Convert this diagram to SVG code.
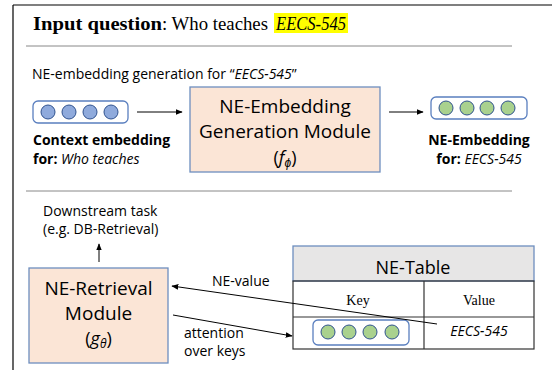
<svg xmlns="http://www.w3.org/2000/svg" width="552" height="370" viewBox="0 0 552 370">
<defs>
<marker id="ah" viewBox="0 0 10 10" refX="9" refY="5" markerWidth="7" markerHeight="7" orient="auto" markerUnits="userSpaceOnUse"><path d="M0,1 L10,5 L0,9 z" fill="#000"/></marker>
</defs>
<style>
.s{font-family:"Open Sans","Liberation Sans",sans-serif;fill:#000}
.serif{font-family:"Liberation Serif",serif;fill:#000}
.mod{fill:#fbe5d6;stroke:#6d8ebf;stroke-width:1.3}
.emb{fill:#fff;stroke:#5a7fbf;stroke-width:1.3}
.cb{fill:#8faadc;stroke:#2f528f;stroke-width:1}
.cg{fill:#a9d18e;stroke:#2f528f;stroke-width:1}
.ln{stroke:#000;stroke-width:1;fill:none}
.sep{stroke:#888;stroke-width:1}
</style>
<rect x="0" y="0" width="552" height="370" fill="#fff"/>
<g id="frame">
<line x1="13" y1="5" x2="552" y2="5" stroke="#000" stroke-width="1.2"/>
<line x1="13" y1="5" x2="13" y2="370" stroke="#000" stroke-width="1.2"/>
<line class="sep" x1="26" y1="46" x2="512" y2="46"/>
<line class="sep" x1="26" y1="191" x2="512" y2="191"/>
</g>
<g id="title">
<rect x="274" y="13" width="74" height="20" fill="#ffff00"/>
<text class="serif" y="30" font-size="19.5"><tspan x="33" font-weight="bold" textLength="129" lengthAdjust="spacingAndGlyphs">Input question</tspan><tspan x="162" textLength="106" lengthAdjust="spacingAndGlyphs">: Who teaches</tspan><tspan x="276" font-style="italic" textLength="70" lengthAdjust="spacingAndGlyphs">EECS-545</tspan></text>
</g>
<text id="subtitle" class="s" x="32" y="79" font-size="14">NE-embedding generation for “<tspan font-style="italic">EECS-545</tspan>”</text>
<g id="context-embedding">
<rect class="emb" x="33" y="101" width="95" height="22" rx="5"/>
<circle class="cb" cx="48" cy="112" r="7"/>
<circle class="cb" cx="69" cy="112" r="7"/>
<circle class="cb" cx="90" cy="112" r="7"/>
<circle class="cb" cx="111" cy="112" r="7"/>
<text class="s" x="33" y="145" font-size="14" font-weight="bold">Context embedding</text>
<text class="s" x="33" y="164" font-size="14"><tspan font-weight="bold">for: </tspan><tspan font-style="italic">Who teaches</tspan></text>
</g>
<g id="ne-gen-module">
<rect class="mod" x="190" y="87" width="190" height="85"/>
<text class="s" x="285" y="113" font-size="19" text-anchor="middle">NE-Embedding</text>
<text class="s" x="285" y="138" font-size="19" text-anchor="middle">Generation Module</text>
<text class="s" x="285" y="164" font-size="18" text-anchor="middle">(<tspan font-style="italic">f</tspan><tspan font-size="12" dy="3" font-style="italic">ϕ</tspan><tspan dy="-3">)</tspan></text>
</g>
<g id="ne-embedding">
<rect class="emb" x="431" y="97" width="96" height="22" rx="5"/>
<circle class="cg" cx="446" cy="108" r="7"/>
<circle class="cg" cx="467" cy="108" r="7"/>
<circle class="cg" cx="487" cy="108" r="7"/>
<circle class="cg" cx="508" cy="108" r="7"/>
<text class="s" x="479" y="145" font-size="14" font-weight="bold" text-anchor="middle">NE-Embedding</text>
<text class="s" x="479" y="164" font-size="14" text-anchor="middle"><tspan font-weight="bold">for: </tspan><tspan font-style="italic">EECS-545</tspan></text>
</g>
<g id="downstream">
<text class="s" x="43" y="216" font-size="14">Downstream task</text>
<text class="s" x="43" y="234" font-size="14">(e.g. DB-Retrieval)</text>
</g>
<g id="ne-retrieval-module">
<rect class="mod" x="29" y="268" width="139" height="95"/>
<text class="s" x="98.5" y="295" font-size="19" text-anchor="middle">NE-Retrieval</text>
<text class="s" x="98.5" y="320" font-size="19" text-anchor="middle">Module</text>
<text class="s" x="98.5" y="345" font-size="18" text-anchor="middle">(<tspan font-style="italic">g</tspan><tspan font-size="12" dy="3" font-style="italic">θ</tspan><tspan dy="-3">)</tspan></text>
</g>
<g id="ne-table">
<rect x="293" y="246" width="241" height="35" fill="#e7e6e6" stroke="#6d8ebf" stroke-width="1.3"/>
<text class="s" x="413" y="274" font-size="18" text-anchor="middle">NE-Table</text>
<rect x="293" y="281" width="241" height="68" fill="none" stroke="#333" stroke-width="1.2"/>
<line x1="293" y1="317" x2="534" y2="317" stroke="#333" stroke-width="1.2"/>
<line x1="424" y1="281" x2="424" y2="349" stroke="#333" stroke-width="1.2"/>
<text class="serif" x="358" y="305" font-size="14" text-anchor="middle">Key</text>
<text class="serif" x="479" y="305" font-size="14" text-anchor="middle">Value</text>
<rect class="emb" x="313" y="320" width="96" height="25" rx="5"/>
<circle class="cg" cx="328" cy="332" r="7"/>
<circle class="cg" cx="349" cy="332" r="7"/>
<circle class="cg" cx="370" cy="332" r="7"/>
<circle class="cg" cx="392" cy="332" r="7"/>
<text class="s" x="479" y="336" font-size="14" font-style="italic" text-anchor="middle">EECS-545</text>
</g>
<g id="connectors">
<line class="ln" x1="137" y1="112" x2="182" y2="112" marker-end="url(#ah)"/>
<line class="ln" x1="389" y1="112" x2="423" y2="112" marker-end="url(#ah)"/>
<line class="ln" x1="99" y1="262" x2="99" y2="244" marker-end="url(#ah)"/>
<line class="ln" x1="437" y1="324" x2="172" y2="286" marker-end="url(#ah)"/>
<line class="ln" x1="173" y1="315" x2="292" y2="336" marker-end="url(#ah)"/>
<text class="s" x="212" y="286" font-size="14">NE-value</text>
<text class="s" x="184" y="338" font-size="14">attention</text>
<text class="s" x="184" y="356" font-size="14">over keys</text>
</g>
</svg>
